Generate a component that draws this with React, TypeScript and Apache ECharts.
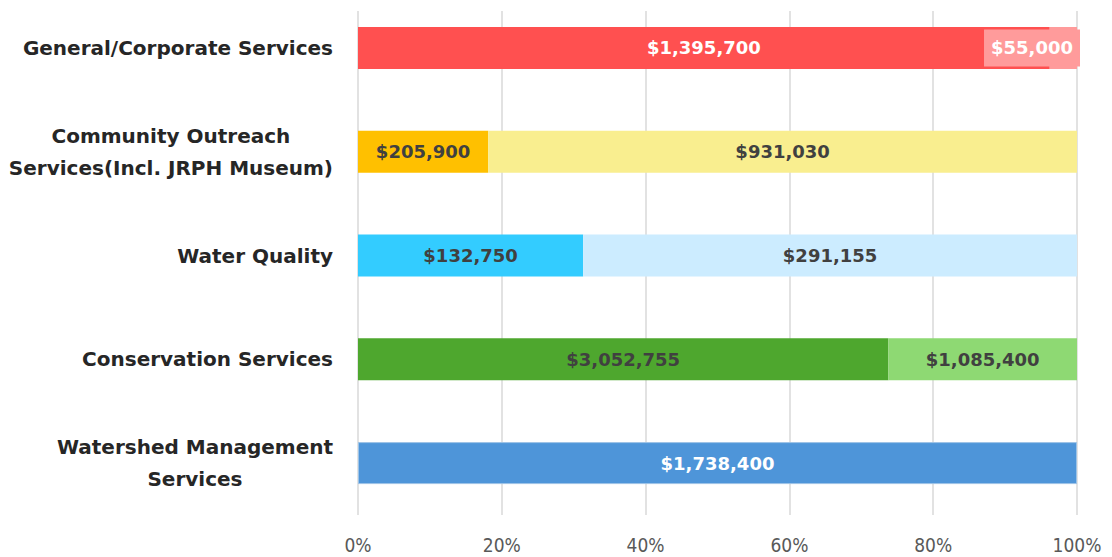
import React, { useEffect, useRef } from "react";
import * as echarts from "echarts";

// Categories listed bottom to top (ECharts category axis order)
const categories = [
  "Watershed Management\nServices",
  "Conservation Services",
  "Water Quality",
  "Community Outreach\nServices(Incl. JRPH Museum)",
  "General/Corporate Services",
];
const firstValues = [1738400, 3052755, 132750, 205900, 1395700];
const secondValues = [0, 1085400, 291155, 931030, 55000];
const firstColors = ["#4E95D9", "#4EA72E", "#33CCFF", "#FFC000", "#FF5050"];
const secondColors = ["#A6C8EC", "#8ED973", "#CCECFF", "#F9EE8F", "#FF9B9B"];
const labelColors = ["#FFFFFF", "#404040", "#404040", "#404040", "#FFFFFF"];
const tickValues = [0, 20, 40, 60, 80, 100];

const money = (v: number) => "$" + v.toLocaleString("en-US");

export default function App() {
  const ref = useRef<HTMLDivElement>(null);
  useEffect(() => {
    if (!ref.current) return;
    const chart = echarts.init(ref.current, null, { renderer: "svg" });
    const totals = firstValues.map((v, i) => v + secondValues[i]);
    const pct = (arr: number[]) => arr.map((v, i) => (v / totals[i]) * 100);
    const p1 = pct(firstValues);
    const p2 = pct(secondValues);
    const labelFont = {
      fontFamily: "'DejaVu Sans', Inter, sans-serif",
      fontWeight: "bold" as const,
      fontSize: 18,
    };
    chart.setOption({
      animation: false,
      grid: { left: 358, right: 35, top: 0, bottom: 42 },
      xAxis: {
        type: "value",
        min: tickValues[0],
        max: tickValues[tickValues.length - 1],
        interval: 20,
        axisLine: { show: false },
        axisTick: { show: false },
        splitLine: { lineStyle: { color: "#D9D9D9", width: 1.5 } },
        axisLabel: {
          formatter: "{value}%",
          color: "#595959",
          fontSize: 19,
          margin: 20,
          fontFamily: "'Liberation Sans Narrow', 'DejaVu Sans Condensed', sans-serif",
        },
      },
      yAxis: {
        type: "category",
        data: categories,
        axisLine: { show: false },
        axisTick: { show: false },
        axisLabel: {
          margin: 25,
          align: "right",
          formatter: (v: string) =>
            v.split("\n").map((l) => "{c|" + l + "}").join("\n"),
          rich: {
            c: {
              align: "center",
              color: "#262626",
              fontSize: 20,
              fontWeight: "bold",
              lineHeight: 32,
              fontFamily: "'DejaVu Sans', Inter, sans-serif",
            },
          },
        },
      },
      graphic: [
        {
          type: "rect",
          z: 100,
          shape: { x: 340, y: 0, width: 772, height: 15 },
          style: { fill: "#FFFFFF" },
        },
      ],
      series: [
        {
          type: "bar",
          stack: "s",
          barWidth: 42,
          data: p1.map((v, i) => ({
            value: v,
            itemStyle: {
              color: firstColors[i],
              borderColor: i === 0 ? "#9DC3E6" : undefined,
              borderWidth: i === 0 ? 1 : 0,
            },
            label: { color: labelColors[i] },
          })),
          label: {
            show: true,
            position: "inside",
            ...labelFont,
            formatter: (p: any) => money(firstValues[p.dataIndex]),
          },
        },
        {
          type: "bar",
          stack: "s",
          barWidth: 42,
          data: p2.map((v, i) => ({
            value: v,
            itemStyle: { color: secondColors[i] },
            label:
              i === 4
                ? {
                    color: "#FFFFFF",
                    position: "insideRight",
                    distance: -3,
                    backgroundColor: "#FF9B9B",
                    padding: [10, 7, 9, 7],
                  }
                : { color: labelColors[i] },
          })),
          label: {
            show: true,
            position: "inside",
            ...labelFont,
            formatter: (p: any) =>
              secondValues[p.dataIndex] ? money(secondValues[p.dataIndex]) : "",
          },
        },
      ],
    });
    return () => chart.dispose();
  }, []);
  return (
    <div
      ref={ref}
      style={{ position: "fixed", left: 0, top: -4, width: 1112, height: 561, background: "#fff" }}
    />
  );
}
